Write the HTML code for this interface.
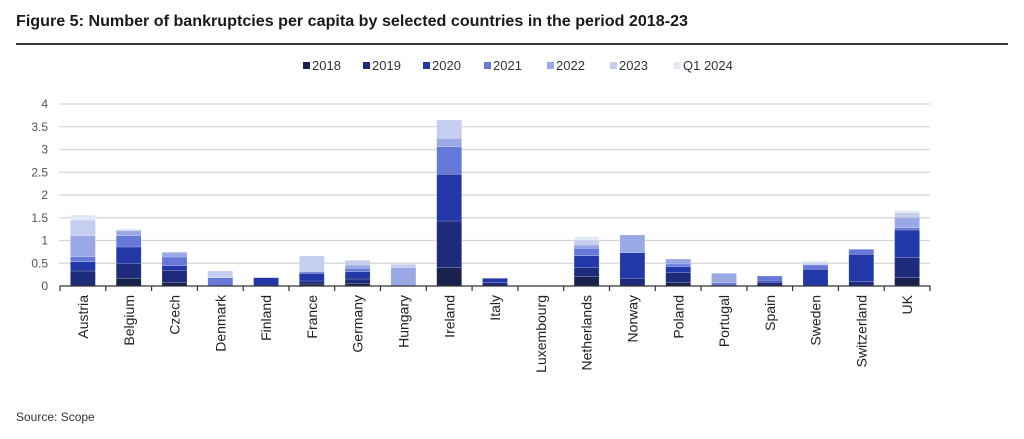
<!DOCTYPE html>
<html>
<head>
<meta charset="utf-8">
<style>
html,body{margin:0;padding:0;background:#fff;}
svg{display:block;}
text{font-family:"Liberation Sans",Arial,sans-serif;}
.y18{fill:#19224f}
.y19{fill:#1d2b7a}
.y20{fill:#2338a8}
.y21{fill:#6779d8}
.y22{fill:#9aa8e6}
.y23{fill:#c6cef0}
.yq1{fill:#e4e9f8}
.grid{stroke:#d6d6d6;stroke-width:1.3}
.yl{font-size:12px;fill:#555;text-anchor:end}
.xl{font-size:14px;fill:#222;text-anchor:end}
.lg{font-size:13px;fill:#333}
</style>
</head>
<body>
<svg width="1024" height="439" viewBox="0 0 1024 439" xmlns="http://www.w3.org/2000/svg">
<rect width="1024" height="439" fill="#fff"/>
<text x="16" y="26" font-size="16" font-weight="bold" fill="#1a1a1a" textLength="672" lengthAdjust="spacingAndGlyphs">Figure 5: Number of bankruptcies per capita by selected countries in the period 2018-23</text>
<line x1="16" y1="44" x2="1008" y2="44" stroke="#3a3a3a" stroke-width="2"/>

<!-- legend -->
<rect class="y18" x="303" y="62" width="7" height="7"/><text class="lg" x="312" y="70">2018</text>
<rect class="y19" x="363" y="62" width="7" height="7"/><text class="lg" x="372" y="70">2019</text>
<rect class="y20" x="423" y="62" width="7" height="7"/><text class="lg" x="432" y="70">2020</text>
<rect class="y21" x="484" y="62" width="7" height="7"/><text class="lg" x="493" y="70">2021</text>
<rect class="y22" x="547" y="62" width="7" height="7"/><text class="lg" x="556" y="70">2022</text>
<rect class="y23" x="610" y="62" width="7" height="7"/><text class="lg" x="619" y="70">2023</text>
<rect class="yq1" x="674" y="62" width="7" height="7"/><text class="lg" x="683" y="70">Q1 2024</text>

<!-- gridlines -->
<line class="grid" x1="59" y1="104" x2="930" y2="104"/>
<line class="grid" x1="59" y1="126.75" x2="930" y2="126.75"/>
<line class="grid" x1="59" y1="149.5" x2="930" y2="149.5"/>
<line class="grid" x1="59" y1="172.25" x2="930" y2="172.25"/>
<line class="grid" x1="59" y1="195" x2="930" y2="195"/>
<line class="grid" x1="59" y1="217.75" x2="930" y2="217.75"/>
<line class="grid" x1="59" y1="240.5" x2="930" y2="240.5"/>
<line class="grid" x1="59" y1="263.25" x2="930" y2="263.25"/>

<!-- y labels -->
<text class="yl" x="48" y="108">4</text>
<text class="yl" x="48" y="130.75">3.5</text>
<text class="yl" x="48" y="153.5">3</text>
<text class="yl" x="48" y="176.25">2.5</text>
<text class="yl" x="48" y="199">2</text>
<text class="yl" x="48" y="221.75">1.5</text>
<text class="yl" x="48" y="244.5">1</text>
<text class="yl" x="48" y="267.25">0.5</text>
<text class="yl" x="48" y="290">0</text>

<!-- bars -->
<g stroke="#ffffff" stroke-opacity="0.35" stroke-width="0.5">
<!-- Austria -->
<rect class="y19" x="70.4" y="271" width="25" height="15"/>
<rect class="y20" x="70.4" y="261.7" width="25" height="9.3"/>
<rect class="y21" x="70.4" y="256.7" width="25" height="5"/>
<rect class="y22" x="70.4" y="235.7" width="25" height="21"/>
<rect class="y23" x="70.4" y="220" width="25" height="15.7"/>
<rect class="yq1" x="70.4" y="215" width="25" height="5"/>
<!-- Belgium -->
<rect class="y18" x="116.2" y="278.3" width="25" height="7.7"/>
<rect class="y19" x="116.2" y="263.3" width="25" height="15"/>
<rect class="y20" x="116.2" y="247" width="25" height="16.3"/>
<rect class="y21" x="116.2" y="235.7" width="25" height="11.3"/>
<rect class="y22" x="116.2" y="230.7" width="25" height="5"/>
<rect class="y23" x="116.2" y="229.5" width="25" height="1.2"/>
<!-- Czech -->
<rect class="y18" x="162" y="282.3" width="25" height="3.7"/>
<rect class="y19" x="162" y="270.3" width="25" height="12"/>
<rect class="y20" x="162" y="265.7" width="25" height="4.6"/>
<rect class="y21" x="162" y="257" width="25" height="8.7"/>
<rect class="y22" x="162" y="252.3" width="25" height="4.7"/>
<!-- Denmark -->
<rect class="y21" x="207.8" y="277.7" width="25" height="8.3"/>
<rect class="y23" x="207.8" y="271" width="25" height="6.7"/>
<!-- Finland -->
<rect class="y20" x="253.6" y="277.7" width="25" height="8.3"/>
<!-- France -->
<rect class="y18" x="299.3" y="284" width="25" height="2"/>
<rect class="y19" x="299.3" y="281" width="25" height="3"/>
<rect class="y20" x="299.3" y="273.5" width="25" height="7.5"/>
<rect class="y21" x="299.3" y="272" width="25" height="1.5"/>
<rect class="y23" x="299.3" y="256" width="25" height="16"/>
<!-- Germany -->
<rect class="y18" x="345.1" y="283.3" width="25" height="2.7"/>
<rect class="y19" x="345.1" y="279" width="25" height="4.3"/>
<rect class="y20" x="345.1" y="271.7" width="25" height="7.3"/>
<rect class="y21" x="345.1" y="268.3" width="25" height="3.4"/>
<rect class="y22" x="345.1" y="265" width="25" height="3.3"/>
<rect class="y23" x="345.1" y="260.3" width="25" height="4.7"/>
<!-- Hungary -->
<rect class="y22" x="390.9" y="267.7" width="25" height="18.3"/>
<rect class="y23" x="390.9" y="264.3" width="25" height="3.4"/>
<!-- Ireland -->
<rect class="y18" x="436.7" y="267.7" width="25" height="18.3"/>
<rect class="y19" x="436.7" y="221" width="25" height="46.7"/>
<rect class="y20" x="436.7" y="174.3" width="25" height="46.7"/>
<rect class="y21" x="436.7" y="146.7" width="25" height="27.6"/>
<rect class="y22" x="436.7" y="138.3" width="25" height="8.4"/>
<rect class="y23" x="436.7" y="120" width="25" height="18.3"/>
<!-- Italy -->
<rect class="y19" x="482.5" y="282.7" width="25" height="3.3"/>
<rect class="y20" x="482.5" y="278.3" width="25" height="4.4"/>
<!-- Netherlands -->
<rect class="y18" x="574.1" y="276.7" width="25" height="9.3"/>
<rect class="y19" x="574.1" y="267.7" width="25" height="9"/>
<rect class="y20" x="574.1" y="255.7" width="25" height="12"/>
<rect class="y21" x="574.1" y="248.3" width="25" height="7.4"/>
<rect class="y22" x="574.1" y="245" width="25" height="3.3"/>
<rect class="y23" x="574.1" y="240" width="25" height="5"/>
<rect class="yq1" x="574.1" y="236.7" width="25" height="3.3"/>
<!-- Norway -->
<rect class="y19" x="619.9" y="278.3" width="25" height="7.7"/>
<rect class="y20" x="619.9" y="252.7" width="25" height="25.6"/>
<rect class="y22" x="619.9" y="235" width="25" height="17.7"/>
<!-- Poland -->
<rect class="y18" x="665.7" y="282.7" width="25" height="3.3"/>
<rect class="y19" x="665.7" y="272.7" width="25" height="10"/>
<rect class="y20" x="665.7" y="266.7" width="25" height="6"/>
<rect class="y21" x="665.7" y="264" width="25" height="2.7"/>
<rect class="y22" x="665.7" y="259" width="25" height="5"/>
<!-- Portugal -->
<rect class="y21" x="711.5" y="282.7" width="25" height="3.3"/>
<rect class="y22" x="711.5" y="273.3" width="25" height="9.4"/>
<!-- Spain -->
<rect class="y19" x="757.3" y="282.7" width="25" height="3.3"/>
<rect class="y20" x="757.3" y="281" width="25" height="1.7"/>
<rect class="y21" x="757.3" y="276" width="25" height="5"/>
<!-- Sweden -->
<rect class="y20" x="803" y="269.3" width="25" height="16.7"/>
<rect class="y21" x="803" y="265" width="25" height="4.3"/>
<rect class="y23" x="803" y="262.5" width="25" height="2.5"/>
<rect class="yq1" x="803" y="260.7" width="25" height="1.8"/>
<!-- Switzerland -->
<rect class="y19" x="848.8" y="281.7" width="25" height="4.3"/>
<rect class="y20" x="848.8" y="254.3" width="25" height="27.4"/>
<rect class="y21" x="848.8" y="249.3" width="25" height="5"/>
<!-- UK -->
<rect class="y18" x="894.6" y="277.7" width="25" height="8.3"/>
<rect class="y19" x="894.6" y="257.7" width="25" height="20"/>
<rect class="y20" x="894.6" y="230" width="25" height="27.7"/>
<rect class="y21" x="894.6" y="227.7" width="25" height="2.3"/>
<rect class="y22" x="894.6" y="217.3" width="25" height="10.4"/>
<rect class="y23" x="894.6" y="212.7" width="25" height="4.6"/>
<rect class="yq1" x="894.6" y="210.7" width="25" height="2"/>
</g>

<!-- x axis -->
<line x1="59.5" y1="286" x2="930.5" y2="286" stroke="#333" stroke-width="1.3"/>
<g stroke="#333" stroke-width="1.2">
<line x1="60" y1="286" x2="60" y2="291"/>
<line x1="105.8" y1="286" x2="105.8" y2="291"/>
<line x1="151.6" y1="286" x2="151.6" y2="291"/>
<line x1="197.4" y1="286" x2="197.4" y2="291"/>
<line x1="243.2" y1="286" x2="243.2" y2="291"/>
<line x1="289" y1="286" x2="289" y2="291"/>
<line x1="334.7" y1="286" x2="334.7" y2="291"/>
<line x1="380.5" y1="286" x2="380.5" y2="291"/>
<line x1="426.3" y1="286" x2="426.3" y2="291"/>
<line x1="472.1" y1="286" x2="472.1" y2="291"/>
<line x1="517.9" y1="286" x2="517.9" y2="291"/>
<line x1="563.7" y1="286" x2="563.7" y2="291"/>
<line x1="609.5" y1="286" x2="609.5" y2="291"/>
<line x1="655.3" y1="286" x2="655.3" y2="291"/>
<line x1="701.1" y1="286" x2="701.1" y2="291"/>
<line x1="746.9" y1="286" x2="746.9" y2="291"/>
<line x1="792.6" y1="286" x2="792.6" y2="291"/>
<line x1="838.4" y1="286" x2="838.4" y2="291"/>
<line x1="884.2" y1="286" x2="884.2" y2="291"/>
<line x1="930" y1="286" x2="930" y2="291"/>
</g>

<!-- x labels -->
<text class="xl" transform="translate(88,295) rotate(-90)">Austria</text>
<text class="xl" transform="translate(133.8,295) rotate(-90)">Belgium</text>
<text class="xl" transform="translate(179.6,295) rotate(-90)">Czech</text>
<text class="xl" transform="translate(225.4,295) rotate(-90)">Denmark</text>
<text class="xl" transform="translate(271.2,295) rotate(-90)">Finland</text>
<text class="xl" transform="translate(316.9,295) rotate(-90)">France</text>
<text class="xl" transform="translate(362.7,295) rotate(-90)">Germany</text>
<text class="xl" transform="translate(408.5,295) rotate(-90)">Hungary</text>
<text class="xl" transform="translate(454.3,295) rotate(-90)">Ireland</text>
<text class="xl" transform="translate(500.1,295) rotate(-90)">Italy</text>
<text class="xl" transform="translate(545.9,295) rotate(-90)">Luxembourg</text>
<text class="xl" transform="translate(591.7,295) rotate(-90)">Netherlands</text>
<text class="xl" transform="translate(637.5,295) rotate(-90)">Norway</text>
<text class="xl" transform="translate(683.3,295) rotate(-90)">Poland</text>
<text class="xl" transform="translate(729.1,295) rotate(-90)">Portugal</text>
<text class="xl" transform="translate(774.9,295) rotate(-90)">Spain</text>
<text class="xl" transform="translate(820.6,295) rotate(-90)">Sweden</text>
<text class="xl" transform="translate(866.4,295) rotate(-90)">Switzerland</text>
<text class="xl" transform="translate(912.2,295) rotate(-90)">UK</text>

<text x="16" y="421" font-size="12" fill="#333">Source: Scope</text>
</svg>
</body>
</html>
